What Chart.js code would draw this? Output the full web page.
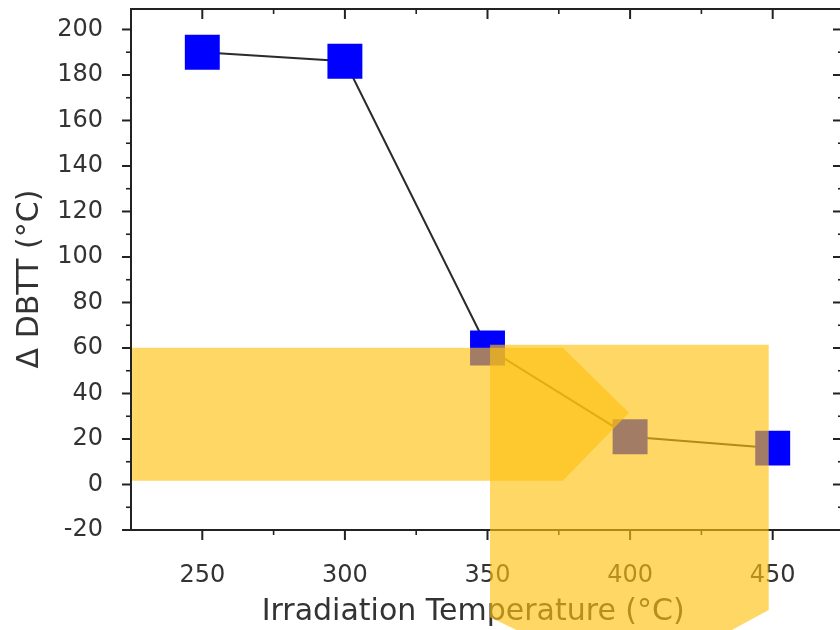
<!DOCTYPE html>
<html>
<head>
<meta charset="utf-8">
<script src="https://cdn.jsdelivr.net/npm/chart.js@4/dist/chart.umd.min.js"></script>
<style>
  html, body { margin: 0; padding: 0; background: #fff; overflow: hidden; }
  #wrap { width: 846px; height: 630px; }
</style>
</head>
<body>
<div id="wrap"><canvas id="chart"></canvas></div>
<script>
  // irradiation temperature (°C) vs shift of DBTT (°C)
  const temps = [250, 300, 350, 400, 450];
  const dbtt = [190, 186, 60, 21, 16];

  const xTicks = [250, 300, 350, 400, 450];
  const xMinor = [275, 325, 375, 425];
  const yTicks = [-20, 0, 20, 40, 60, 80, 100, 120, 140, 160, 180, 200];
  const yMinor = [-10, 10, 30, 50, 70, 90, 110, 130, 150, 170, 190];

  // yellow highlighter marks laid over the figure, in data units
  const bandOutline = [[225.4, 60.1], [376.4, 60.1], [399.6, 31.5], [376.4, 1.6], [225.4, 1.6]];
  const columnOutline = [[350.9, 61.4], [448.6, 61.4], [448.6, -55.2], [399.9, -88.2], [350.9, -58.3]];

  const FONT = "'DejaVu Sans', sans-serif";

  const framePlugin = {
    id: "frame",
    afterDatasetsDraw(chart) {
      const { ctx, chartArea: a, scales: { x, y } } = chart;
      ctx.save();
      ctx.strokeStyle = "#222";
      ctx.lineWidth = 2;
      ctx.strokeRect(a.left, a.top, a.right - a.left, a.bottom - a.top);

      const tick = (x1, y1, x2, y2, w) => {
        ctx.lineWidth = w;
        ctx.beginPath();
        ctx.moveTo(x1, y1);
        ctx.lineTo(x2, y2);
        ctx.stroke();
      };
      xTicks.forEach((v) => {
        const px = x.getPixelForValue(v);
        tick(px, a.bottom, px, a.bottom + 10, 2);
        tick(px, a.top, px, a.top + 10, 2);
      });
      xMinor.forEach((v) => {
        const px = x.getPixelForValue(v);
        tick(px, a.bottom, px, a.bottom + 5, 1.6);
        tick(px, a.top, px, a.top + 5, 1.6);
      });
      yTicks.forEach((v) => {
        const py = y.getPixelForValue(v);
        tick(a.left - 9, py, a.left, py, 2);
        tick(a.right - 11, py, a.right, py, 2);
      });
      yMinor.forEach((v) => {
        const py = y.getPixelForValue(v);
        tick(a.left - 5, py, a.left, py, 1.6);
        tick(a.right - 6, py, a.right, py, 1.6);
      });
      ctx.restore();
    },
    afterDraw(chart) {
      const { ctx, scales: { x, y } } = chart;
      ctx.save();
      ctx.fillStyle = "rgba(253, 193, 15, 0.645)";
      [bandOutline, columnOutline].forEach((shape) => {
        ctx.beginPath();
        shape.forEach(([vx, vy], i) => {
          const px = x.getPixelForValue(vx);
          const py = y.getPixelForValue(vy);
          if (i === 0) ctx.moveTo(px, py); else ctx.lineTo(px, py);
        });
        ctx.closePath();
        ctx.fill();
      });
      ctx.restore();
    }
  };

  new Chart(document.getElementById("chart"), {
    type: "line",
    data: {
      datasets: [{
        data: temps.map((t, i) => ({ x: t, y: dbtt[i] })),
        borderColor: "#2b2b2b",
        borderWidth: 2,
        pointStyle: "rect",
        pointRadius: 24.7,
        pointHoverRadius: 24.7,
        pointBackgroundColor: "#0000ff",
        pointBorderWidth: 0,
        tension: 0
      }]
    },
    options: {
      responsive: true,
      maintainAspectRatio: false,
      animation: false,
      events: [],
      layout: { autoPadding: false, padding: { top: 9, right: 2, bottom: 0, left: 0 } },
      plugins: { legend: { display: false }, tooltip: { enabled: false } },
      scales: {
        x: {
          type: "linear",
          min: 225,
          max: 475,
          grid: { display: false },
          border: { display: false },
          afterBuildTicks: (scale) => { scale.ticks = xTicks.map((v) => ({ value: v })); },
          afterFit: (scale) => {
            scale.height = 100;
            scale.paddingLeft = 0;
            scale.paddingRight = 0;
          },
          ticks: { color: "#333", padding: 23, font: { family: FONT, size: 24 } },
          title: {
            display: true,
            text: "Irradiation Temperature (°C)   ",
            color: "#333",
            padding: { top: 0, bottom: 0 },
            font: { family: FONT, size: 30 }
          }
        },
        y: {
          min: -20,
          max: 209,
          grid: { display: false },
          border: { display: false },
          afterBuildTicks: (scale) => { scale.ticks = yTicks.map((v) => ({ value: v })); },
          afterFit: (scale) => {
            scale.width = 131;
            scale.paddingTop = 0;
            scale.paddingBottom = 0;
          },
          ticks: { color: "#333", padding: 20, font: { family: FONT, size: 24 } },
          title: {
            display: true,
            text: "Δ DBTT (°C)  ",
            color: "#333",
            padding: { top: 12, bottom: 0 },
            font: { family: FONT, size: 30 }
          }
        }
      }
    },
    plugins: [framePlugin]
  });
</script>
</body>
</html>
